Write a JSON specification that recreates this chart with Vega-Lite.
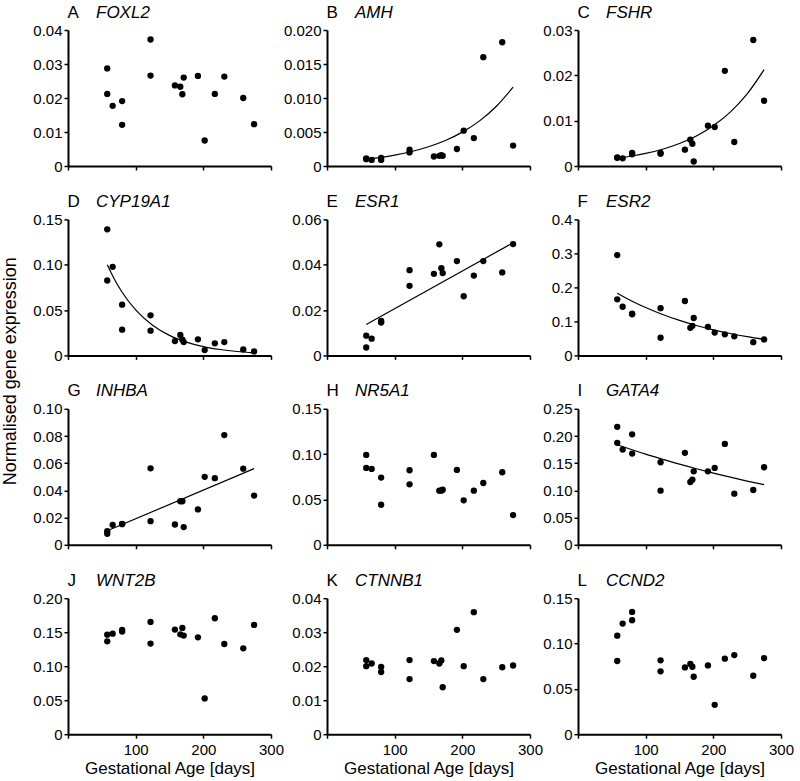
{
"$schema": "https://vega.github.io/schema/vega-lite/v6.json",
"background": "white",
"padding": {"left": 1, "top": 3, "right": 5, "bottom": 5},
"config": {
  "font": "Liberation Sans",
  "view": {"stroke": null},
  "axis": {"grid": false, "domainColor": "#000", "domainWidth": 2, "tickColor": "#000", "tickWidth": 1.5, "tickSize": 4, "labelColor": "#000", "labelFontSize": 15, "labelPadding": 2, "labelFlush": false, "labelOverlap": false, "titleColor": "#000", "titleFontSize": 17, "titleFontWeight": "normal"},
  "axisX": {"labelPadding": 4},
  "circle": {"size": 40, "color": "#000", "opacity": 1},
  "line": {"color": "#000", "strokeWidth": 1.2}
},
"datasets": {
  "pts": [
    {"g":"FOXL2","a":58,"v":0.0287},{"g":"FOXL2","a":58,"v":0.0212},{"g":"FOXL2","a":66,"v":0.0177},{"g":"FOXL2","a":80,"v":0.0191},{"g":"FOXL2","a":80,"v":0.0121},{"g":"FOXL2","a":122,"v":0.0372},{"g":"FOXL2","a":122,"v":0.0266},{"g":"FOXL2","a":158,"v":0.0237},{"g":"FOXL2","a":166,"v":0.0233},{"g":"FOXL2","a":169,"v":0.0211},{"g":"FOXL2","a":171,"v":0.0260},{"g":"FOXL2","a":192,"v":0.0265},{"g":"FOXL2","a":202,"v":0.0075},{"g":"FOXL2","a":217,"v":0.0212},{"g":"FOXL2","a":231,"v":0.0263},{"g":"FOXL2","a":259,"v":0.0200},{"g":"FOXL2","a":275,"v":0.0123},
    {"g":"AMH","a":58,"v":0.0011},{"g":"AMH","a":58,"v":0.0010},{"g":"AMH","a":66,"v":0.0009},{"g":"AMH","a":80,"v":0.0012},{"g":"AMH","a":80,"v":0.0009},{"g":"AMH","a":122,"v":0.0024},{"g":"AMH","a":122,"v":0.0020},{"g":"AMH","a":158,"v":0.0014},{"g":"AMH","a":166,"v":0.0015},{"g":"AMH","a":169,"v":0.0016},{"g":"AMH","a":171,"v":0.0015},{"g":"AMH","a":192,"v":0.0025},{"g":"AMH","a":202,"v":0.0052},{"g":"AMH","a":217,"v":0.0041},{"g":"AMH","a":231,"v":0.0160},{"g":"AMH","a":259,"v":0.0182},{"g":"AMH","a":275,"v":0.0030},
    {"g":"FSHR","a":58,"v":0.0018},{"g":"FSHR","a":58,"v":0.0019},{"g":"FSHR","a":66,"v":0.0017},{"g":"FSHR","a":80,"v":0.0029},{"g":"FSHR","a":80,"v":0.0026},{"g":"FSHR","a":122,"v":0.0029},{"g":"FSHR","a":122,"v":0.0027},{"g":"FSHR","a":158,"v":0.0036},{"g":"FSHR","a":166,"v":0.0058},{"g":"FSHR","a":169,"v":0.0049},{"g":"FSHR","a":171,"v":0.0010},{"g":"FSHR","a":192,"v":0.0089},{"g":"FSHR","a":202,"v":0.0086},{"g":"FSHR","a":217,"v":0.0210},{"g":"FSHR","a":231,"v":0.0053},{"g":"FSHR","a":259,"v":0.0278},{"g":"FSHR","a":275,"v":0.0144},
    {"g":"CYP19A1","a":58,"v":0.139},{"g":"CYP19A1","a":58,"v":0.0826},{"g":"CYP19A1","a":66,"v":0.0977},{"g":"CYP19A1","a":80,"v":0.056},{"g":"CYP19A1","a":80,"v":0.0284},{"g":"CYP19A1","a":122,"v":0.0442},{"g":"CYP19A1","a":122,"v":0.0273},{"g":"CYP19A1","a":158,"v":0.0158},{"g":"CYP19A1","a":166,"v":0.0225},{"g":"CYP19A1","a":169,"v":0.0173},{"g":"CYP19A1","a":171,"v":0.0147},{"g":"CYP19A1","a":192,"v":0.0177},{"g":"CYP19A1","a":202,"v":0.0059},{"g":"CYP19A1","a":217,"v":0.0133},{"g":"CYP19A1","a":231,"v":0.0147},{"g":"CYP19A1","a":259,"v":0.0066},{"g":"CYP19A1","a":275,"v":0.0044},
    {"g":"ESR1","a":58,"v":0.0087},{"g":"ESR1","a":58,"v":0.0035},{"g":"ESR1","a":66,"v":0.0074},{"g":"ESR1","a":80,"v":0.0152},{"g":"ESR1","a":80,"v":0.0145},{"g":"ESR1","a":122,"v":0.0376},{"g":"ESR1","a":122,"v":0.0307},{"g":"ESR1","a":158,"v":0.0360},{"g":"ESR1","a":166,"v":0.0490},{"g":"ESR1","a":169,"v":0.0385},{"g":"ESR1","a":171,"v":0.0363},{"g":"ESR1","a":192,"v":0.0416},{"g":"ESR1","a":202,"v":0.0261},{"g":"ESR1","a":217,"v":0.0352},{"g":"ESR1","a":231,"v":0.0416},{"g":"ESR1","a":259,"v":0.0366},{"g":"ESR1","a":275,"v":0.0491},
    {"g":"ESR2","a":58,"v":0.295},{"g":"ESR2","a":58,"v":0.165},{"g":"ESR2","a":66,"v":0.143},{"g":"ESR2","a":80,"v":0.123},{"g":"ESR2","a":80,"v":0.121},{"g":"ESR2","a":122,"v":0.139},{"g":"ESR2","a":122,"v":0.052},{"g":"ESR2","a":158,"v":0.160},{"g":"ESR2","a":166,"v":0.081},{"g":"ESR2","a":169,"v":0.087},{"g":"ESR2","a":171,"v":0.110},{"g":"ESR2","a":192,"v":0.084},{"g":"ESR2","a":202,"v":0.067},{"g":"ESR2","a":217,"v":0.062},{"g":"ESR2","a":231,"v":0.056},{"g":"ESR2","a":259,"v":0.039},{"g":"ESR2","a":275,"v":0.047},
    {"g":"INHBA","a":58,"v":0.0100},{"g":"INHBA","a":58,"v":0.0081},{"g":"INHBA","a":66,"v":0.0147},{"g":"INHBA","a":80,"v":0.0154},{"g":"INHBA","a":80,"v":0.0152},{"g":"INHBA","a":122,"v":0.0562},{"g":"INHBA","a":122,"v":0.0174},{"g":"INHBA","a":158,"v":0.0149},{"g":"INHBA","a":166,"v":0.032},{"g":"INHBA","a":169,"v":0.032},{"g":"INHBA","a":171,"v":0.013},{"g":"INHBA","a":192,"v":0.026},{"g":"INHBA","a":202,"v":0.050},{"g":"INHBA","a":217,"v":0.049},{"g":"INHBA","a":231,"v":0.0807},{"g":"INHBA","a":259,"v":0.056},{"g":"INHBA","a":275,"v":0.0362},
    {"g":"NR5A1","a":58,"v":0.0991},{"g":"NR5A1","a":58,"v":0.0848},{"g":"NR5A1","a":66,"v":0.0837},{"g":"NR5A1","a":80,"v":0.0741},{"g":"NR5A1","a":80,"v":0.0442},{"g":"NR5A1","a":122,"v":0.0822},{"g":"NR5A1","a":122,"v":0.0667},{"g":"NR5A1","a":158,"v":0.0991},{"g":"NR5A1","a":166,"v":0.0597},{"g":"NR5A1","a":169,"v":0.0597},{"g":"NR5A1","a":171,"v":0.0608},{"g":"NR5A1","a":192,"v":0.0826},{"g":"NR5A1","a":202,"v":0.049},{"g":"NR5A1","a":217,"v":0.0597},{"g":"NR5A1","a":231,"v":0.0682},{"g":"NR5A1","a":259,"v":0.080},{"g":"NR5A1","a":275,"v":0.0328},
    {"g":"GATA4","a":58,"v":0.2168},{"g":"GATA4","a":58,"v":0.1874},{"g":"GATA4","a":66,"v":0.175},{"g":"GATA4","a":80,"v":0.203},{"g":"GATA4","a":80,"v":0.1677},{"g":"GATA4","a":122,"v":0.1517},{"g":"GATA4","a":122,"v":0.0995},{"g":"GATA4","a":158,"v":0.169},{"g":"GATA4","a":166,"v":0.1155},{"g":"GATA4","a":169,"v":0.1198},{"g":"GATA4","a":171,"v":0.135},{"g":"GATA4","a":192,"v":0.135},{"g":"GATA4","a":202,"v":0.1413},{"g":"GATA4","a":217,"v":0.1855},{"g":"GATA4","a":231,"v":0.094},{"g":"GATA4","a":259,"v":0.1007},{"g":"GATA4","a":275,"v":0.1425},
    {"g":"WNT2B","a":58,"v":0.1464},{"g":"WNT2B","a":58,"v":0.1366},{"g":"WNT2B","a":66,"v":0.1479},{"g":"WNT2B","a":80,"v":0.1533},{"g":"WNT2B","a":80,"v":0.1509},{"g":"WNT2B","a":122,"v":0.1651},{"g":"WNT2B","a":122,"v":0.1332},{"g":"WNT2B","a":158,"v":0.1538},{"g":"WNT2B","a":166,"v":0.1469},{"g":"WNT2B","a":169,"v":0.1563},{"g":"WNT2B","a":171,"v":0.145},{"g":"WNT2B","a":192,"v":0.1425},{"g":"WNT2B","a":202,"v":0.0526},{"g":"WNT2B","a":217,"v":0.1705},{"g":"WNT2B","a":231,"v":0.1327},{"g":"WNT2B","a":259,"v":0.1263},{"g":"WNT2B","a":275,"v":0.1607},
    {"g":"CTNNB1","a":58,"v":0.0218},{"g":"CTNNB1","a":58,"v":0.0200},{"g":"CTNNB1","a":66,"v":0.0208},{"g":"CTNNB1","a":80,"v":0.0198},{"g":"CTNNB1","a":80,"v":0.0183},{"g":"CTNNB1","a":122,"v":0.0218},{"g":"CTNNB1","a":122,"v":0.0162},{"g":"CTNNB1","a":158,"v":0.0215},{"g":"CTNNB1","a":166,"v":0.0208},{"g":"CTNNB1","a":169,"v":0.0217},{"g":"CTNNB1","a":171,"v":0.0138},{"g":"CTNNB1","a":192,"v":0.0307},{"g":"CTNNB1","a":202,"v":0.0200},{"g":"CTNNB1","a":217,"v":0.0359},{"g":"CTNNB1","a":231,"v":0.0162},{"g":"CTNNB1","a":259,"v":0.0197},{"g":"CTNNB1","a":275,"v":0.0202},
    {"g":"CCND2","a":58,"v":0.1087},{"g":"CCND2","a":58,"v":0.0807},{"g":"CCND2","a":66,"v":0.122},{"g":"CCND2","a":80,"v":0.1349},{"g":"CCND2","a":80,"v":0.1257},{"g":"CCND2","a":122,"v":0.0815},{"g":"CCND2","a":122,"v":0.0693},{"g":"CCND2","a":158,"v":0.0737},{"g":"CCND2","a":166,"v":0.0774},{"g":"CCND2","a":169,"v":0.0744},{"g":"CCND2","a":171,"v":0.0634},{"g":"CCND2","a":192,"v":0.0759},{"g":"CCND2","a":202,"v":0.0324},{"g":"CCND2","a":217,"v":0.0833},{"g":"CCND2","a":231,"v":0.0873},{"g":"CCND2","a":259,"v":0.0645},{"g":"CCND2","a":275,"v":0.084}
  ],
  "fit": [
    {"g":"AMH","a":58,"v":0.00100},{"g":"AMH","a":80,"v":0.00128},{"g":"AMH","a":100,"v":0.00161},{"g":"AMH","a":125,"v":0.00213},{"g":"AMH","a":150,"v":0.00283},{"g":"AMH","a":175,"v":0.00375},{"g":"AMH","a":200,"v":0.00498},{"g":"AMH","a":225,"v":0.0066},{"g":"AMH","a":250,"v":0.00875},{"g":"AMH","a":275,"v":0.0116},
    {"g":"FSHR","a":58,"v":0.0017},{"g":"FSHR","a":80,"v":0.0022},{"g":"FSHR","a":100,"v":0.00277},{"g":"FSHR","a":125,"v":0.0037},{"g":"FSHR","a":150,"v":0.00496},{"g":"FSHR","a":175,"v":0.00663},{"g":"FSHR","a":200,"v":0.00888},{"g":"FSHR","a":225,"v":0.01188},{"g":"FSHR","a":250,"v":0.0159},{"g":"FSHR","a":275,"v":0.02125},
    {"g":"CYP19A1","a":58,"v":0.100},{"g":"CYP19A1","a":70,"v":0.0821},{"g":"CYP19A1","a":80,"v":0.0697},{"g":"CYP19A1","a":100,"v":0.0502},{"g":"CYP19A1","a":125,"v":0.0333},{"g":"CYP19A1","a":150,"v":0.0221},{"g":"CYP19A1","a":175,"v":0.0147},{"g":"CYP19A1","a":200,"v":0.0097},{"g":"CYP19A1","a":225,"v":0.0065},{"g":"CYP19A1","a":250,"v":0.0043},{"g":"CYP19A1","a":275,"v":0.0028},
    {"g":"ESR1","a":58,"v":0.0136},{"g":"ESR1","a":275,"v":0.0497},
    {"g":"ESR2","a":58,"v":0.183},{"g":"ESR2","a":80,"v":0.1594},{"g":"ESR2","a":100,"v":0.1407},{"g":"ESR2","a":125,"v":0.1203},{"g":"ESR2","a":150,"v":0.1029},{"g":"ESR2","a":175,"v":0.088},{"g":"ESR2","a":200,"v":0.0752},{"g":"ESR2","a":225,"v":0.0644},{"g":"ESR2","a":250,"v":0.055},{"g":"ESR2","a":275,"v":0.0471},
    {"g":"INHBA","a":58,"v":0.0103},{"g":"INHBA","a":275,"v":0.056},
    {"g":"GATA4","a":58,"v":0.184},{"g":"GATA4","a":100,"v":0.1667},{"g":"GATA4","a":125,"v":0.1573},{"g":"GATA4","a":150,"v":0.1482},{"g":"GATA4","a":175,"v":0.1398},{"g":"GATA4","a":200,"v":0.1319},{"g":"GATA4","a":225,"v":0.1243},{"g":"GATA4","a":250,"v":0.1172},{"g":"GATA4","a":275,"v":0.1106}
  ]
},
"spacing": -1,
"hconcat": [
 {"vconcat": [
  {"width":203,"height":136,"resolve":{"axis":{"x":"independent","y":"independent"}},"layer":[
    {"data":{"name":"pts"},"transform":[{"filter":"datum.g == 'FOXL2'"}],"mark":"circle","encoding":{
      "x":{"field":"a","type":"quantitative","scale":{"domain":[0,300],"nice":false},"axis":{"values":[0,100,200,300],"labels":false,"title":null}},
      "y":{"field":"v","type":"quantitative","scale":{"domain":[0,0.04],"nice":false},"axis":{"values":[0,0.01,0.02,0.03,0.04],"labelOverlap":false,"labelExpr":"datum.value == 0 ? '0' : format(datum.value, '.2f')","title":null}}}},
    {"data":{"name":"fit"},"transform":[{"filter":"datum.g == 'FOXL2'"}],"mark":{"type":"line","interpolate":"monotone"},"encoding":{
      "x":{"field":"a","type":"quantitative","axis":{"orient":"top","domain":false,"ticks":false,"labels":false,"title":"FOXL2","titleFontStyle":"italic","titleX":27.5,"titleY":-13,"titleAlign":"left","titleBaseline":"alphabetic","titleAngle":0}},
      "y":{"field":"v","type":"quantitative","axis":null}}},
    {"data":{"name":"fit"},"transform":[{"filter":"false"}],"mark":"line","encoding":{
      "x":{"field":"a","type":"quantitative","axis":{"orient":"top","domain":false,"ticks":false,"labels":false,"title":"A","titleX":-1,"titleY":-13,"titleAlign":"left","titleBaseline":"alphabetic","titleAngle":0}},
      "y":{"field":"v","type":"quantitative","axis":null}}}]},
  {"width":203,"height":136,"resolve":{"axis":{"x":"independent","y":"independent"}},"layer":[
    {"data":{"name":"pts"},"transform":[{"filter":"datum.g == 'CYP19A1'"}],"mark":"circle","encoding":{
      "x":{"field":"a","type":"quantitative","scale":{"domain":[0,300],"nice":false},"axis":{"values":[0,100,200,300],"labels":false,"title":null}},
      "y":{"field":"v","type":"quantitative","scale":{"domain":[0,0.15],"nice":false},"axis":{"values":[0,0.05,0.1,0.15],"labelOverlap":false,"labelExpr":"datum.value == 0 ? '0' : format(datum.value, '.2f')","title":null}}}},
    {"data":{"name":"fit"},"transform":[{"filter":"datum.g == 'CYP19A1'"}],"mark":{"type":"line","interpolate":"monotone"},"encoding":{
      "x":{"field":"a","type":"quantitative","axis":{"orient":"top","domain":false,"ticks":false,"labels":false,"title":"CYP19A1","titleFontStyle":"italic","titleX":27.5,"titleY":-13,"titleAlign":"left","titleBaseline":"alphabetic","titleAngle":0}},
      "y":{"field":"v","type":"quantitative","axis":null}}},
    {"data":{"name":"fit"},"transform":[{"filter":"false"}],"mark":"line","encoding":{
      "x":{"field":"a","type":"quantitative","axis":{"orient":"top","domain":false,"ticks":false,"labels":false,"title":"D","titleX":-1,"titleY":-13,"titleAlign":"left","titleBaseline":"alphabetic","titleAngle":0}},
      "y":{"field":"v","type":"quantitative","axis":null}}}]},
  {"width":203,"height":136,"resolve":{"axis":{"x":"independent","y":"independent"}},"layer":[
    {"data":{"name":"pts"},"transform":[{"filter":"datum.g == 'INHBA'"}],"mark":"circle","encoding":{
      "x":{"field":"a","type":"quantitative","scale":{"domain":[0,300],"nice":false},"axis":{"values":[0,100,200,300],"labels":false,"title":null}},
      "y":{"field":"v","type":"quantitative","scale":{"domain":[0,0.1],"nice":false},"axis":{"values":[0,0.02,0.04,0.06,0.08,0.1],"labelOverlap":false,"labelExpr":"datum.value == 0 ? '0' : format(datum.value, '.2f')","title":"Normalised gene expression","titleFontSize":18,"titleX":-58,"titleY":-38,"titleAngle":-90,"titleAlign":"center","titleBaseline":"middle"}}}},
    {"data":{"name":"fit"},"transform":[{"filter":"datum.g == 'INHBA'"}],"mark":{"type":"line","interpolate":"monotone"},"encoding":{
      "x":{"field":"a","type":"quantitative","axis":{"orient":"top","domain":false,"ticks":false,"labels":false,"title":"INHBA","titleFontStyle":"italic","titleX":27.5,"titleY":-13,"titleAlign":"left","titleBaseline":"alphabetic","titleAngle":0}},
      "y":{"field":"v","type":"quantitative","axis":null}}},
    {"data":{"name":"fit"},"transform":[{"filter":"false"}],"mark":"line","encoding":{
      "x":{"field":"a","type":"quantitative","axis":{"orient":"top","domain":false,"ticks":false,"labels":false,"title":"G","titleX":-1,"titleY":-13,"titleAlign":"left","titleBaseline":"alphabetic","titleAngle":0}},
      "y":{"field":"v","type":"quantitative","axis":null}}}]},
  {"width":203,"height":136,"resolve":{"axis":{"x":"independent","y":"independent"}},"layer":[
    {"data":{"name":"pts"},"transform":[{"filter":"datum.g == 'WNT2B'"}],"mark":"circle","encoding":{
      "x":{"field":"a","type":"quantitative","scale":{"domain":[0,300],"nice":false},"axis":{"values":[0,100,200,300],"labelExpr":"datum.value == 0 ? '' : datum.label","title":"Gestational Age [days]","titlePadding":3}},
      "y":{"field":"v","type":"quantitative","scale":{"domain":[0,0.2],"nice":false},"axis":{"values":[0,0.05,0.1,0.15,0.2],"labelOverlap":false,"labelExpr":"datum.value == 0 ? '0' : format(datum.value, '.2f')","title":null}}}},
    {"data":{"name":"fit"},"transform":[{"filter":"datum.g == 'WNT2B'"}],"mark":{"type":"line","interpolate":"monotone"},"encoding":{
      "x":{"field":"a","type":"quantitative","axis":{"orient":"top","domain":false,"ticks":false,"labels":false,"title":"WNT2B","titleFontStyle":"italic","titleX":27.5,"titleY":-13,"titleAlign":"left","titleBaseline":"alphabetic","titleAngle":0}},
      "y":{"field":"v","type":"quantitative","axis":null}}},
    {"data":{"name":"fit"},"transform":[{"filter":"false"}],"mark":"line","encoding":{
      "x":{"field":"a","type":"quantitative","axis":{"orient":"top","domain":false,"ticks":false,"labels":false,"title":"J","titleX":-1,"titleY":-13,"titleAlign":"left","titleBaseline":"alphabetic","titleAngle":0}},
      "y":{"field":"v","type":"quantitative","axis":null}}}]}
 ], "spacing": 53.4, "bounds": "flush"},
 {"vconcat": [
  {"width":203,"height":136,"resolve":{"axis":{"x":"independent","y":"independent"}},"layer":[
    {"data":{"name":"pts"},"transform":[{"filter":"datum.g == 'AMH'"}],"mark":"circle","encoding":{
      "x":{"field":"a","type":"quantitative","scale":{"domain":[0,300],"nice":false},"axis":{"values":[0,100,200,300],"labels":false,"title":null}},
      "y":{"field":"v","type":"quantitative","scale":{"domain":[0,0.02],"nice":false},"axis":{"values":[0,0.005,0.01,0.015,0.02],"labelOverlap":false,"labelExpr":"datum.value == 0 ? '0' : format(datum.value, '.3f')","title":null}}}},
    {"data":{"name":"fit"},"transform":[{"filter":"datum.g == 'AMH'"}],"mark":{"type":"line","interpolate":"monotone"},"encoding":{
      "x":{"field":"a","type":"quantitative","axis":{"orient":"top","domain":false,"ticks":false,"labels":false,"title":"AMH","titleFontStyle":"italic","titleX":27.5,"titleY":-13,"titleAlign":"left","titleBaseline":"alphabetic","titleAngle":0}},
      "y":{"field":"v","type":"quantitative","axis":null}}},
    {"data":{"name":"fit"},"transform":[{"filter":"false"}],"mark":"line","encoding":{
      "x":{"field":"a","type":"quantitative","axis":{"orient":"top","domain":false,"ticks":false,"labels":false,"title":"B","titleX":-1,"titleY":-13,"titleAlign":"left","titleBaseline":"alphabetic","titleAngle":0}},
      "y":{"field":"v","type":"quantitative","axis":null}}}]},
  {"width":203,"height":136,"resolve":{"axis":{"x":"independent","y":"independent"}},"layer":[
    {"data":{"name":"pts"},"transform":[{"filter":"datum.g == 'ESR1'"}],"mark":"circle","encoding":{
      "x":{"field":"a","type":"quantitative","scale":{"domain":[0,300],"nice":false},"axis":{"values":[0,100,200,300],"labels":false,"title":null}},
      "y":{"field":"v","type":"quantitative","scale":{"domain":[0,0.06],"nice":false},"axis":{"values":[0,0.02,0.04,0.06],"labelOverlap":false,"labelExpr":"datum.value == 0 ? '0' : format(datum.value, '.2f')","title":null}}}},
    {"data":{"name":"fit"},"transform":[{"filter":"datum.g == 'ESR1'"}],"mark":{"type":"line","interpolate":"monotone"},"encoding":{
      "x":{"field":"a","type":"quantitative","axis":{"orient":"top","domain":false,"ticks":false,"labels":false,"title":"ESR1","titleFontStyle":"italic","titleX":27.5,"titleY":-13,"titleAlign":"left","titleBaseline":"alphabetic","titleAngle":0}},
      "y":{"field":"v","type":"quantitative","axis":null}}},
    {"data":{"name":"fit"},"transform":[{"filter":"false"}],"mark":"line","encoding":{
      "x":{"field":"a","type":"quantitative","axis":{"orient":"top","domain":false,"ticks":false,"labels":false,"title":"E","titleX":-1,"titleY":-13,"titleAlign":"left","titleBaseline":"alphabetic","titleAngle":0}},
      "y":{"field":"v","type":"quantitative","axis":null}}}]},
  {"width":203,"height":136,"resolve":{"axis":{"x":"independent","y":"independent"}},"layer":[
    {"data":{"name":"pts"},"transform":[{"filter":"datum.g == 'NR5A1'"}],"mark":"circle","encoding":{
      "x":{"field":"a","type":"quantitative","scale":{"domain":[0,300],"nice":false},"axis":{"values":[0,100,200,300],"labels":false,"title":null}},
      "y":{"field":"v","type":"quantitative","scale":{"domain":[0,0.15],"nice":false},"axis":{"values":[0,0.05,0.1,0.15],"labelOverlap":false,"labelExpr":"datum.value == 0 ? '0' : format(datum.value, '.2f')","title":null}}}},
    {"data":{"name":"fit"},"transform":[{"filter":"datum.g == 'NR5A1'"}],"mark":{"type":"line","interpolate":"monotone"},"encoding":{
      "x":{"field":"a","type":"quantitative","axis":{"orient":"top","domain":false,"ticks":false,"labels":false,"title":"NR5A1","titleFontStyle":"italic","titleX":27.5,"titleY":-13,"titleAlign":"left","titleBaseline":"alphabetic","titleAngle":0}},
      "y":{"field":"v","type":"quantitative","axis":null}}},
    {"data":{"name":"fit"},"transform":[{"filter":"false"}],"mark":"line","encoding":{
      "x":{"field":"a","type":"quantitative","axis":{"orient":"top","domain":false,"ticks":false,"labels":false,"title":"H","titleX":-1,"titleY":-13,"titleAlign":"left","titleBaseline":"alphabetic","titleAngle":0}},
      "y":{"field":"v","type":"quantitative","axis":null}}}]},
  {"width":203,"height":136,"resolve":{"axis":{"x":"independent","y":"independent"}},"layer":[
    {"data":{"name":"pts"},"transform":[{"filter":"datum.g == 'CTNNB1'"}],"mark":"circle","encoding":{
      "x":{"field":"a","type":"quantitative","scale":{"domain":[0,300],"nice":false},"axis":{"values":[0,100,200,300],"labelExpr":"datum.value == 0 ? '' : datum.label","title":"Gestational Age [days]","titlePadding":3}},
      "y":{"field":"v","type":"quantitative","scale":{"domain":[0,0.04],"nice":false},"axis":{"values":[0,0.01,0.02,0.03,0.04],"labelOverlap":false,"labelExpr":"datum.value == 0 ? '0' : format(datum.value, '.2f')","title":null}}}},
    {"data":{"name":"fit"},"transform":[{"filter":"datum.g == 'CTNNB1'"}],"mark":{"type":"line","interpolate":"monotone"},"encoding":{
      "x":{"field":"a","type":"quantitative","axis":{"orient":"top","domain":false,"ticks":false,"labels":false,"title":"CTNNB1","titleFontStyle":"italic","titleX":27.5,"titleY":-13,"titleAlign":"left","titleBaseline":"alphabetic","titleAngle":0}},
      "y":{"field":"v","type":"quantitative","axis":null}}},
    {"data":{"name":"fit"},"transform":[{"filter":"false"}],"mark":"line","encoding":{
      "x":{"field":"a","type":"quantitative","axis":{"orient":"top","domain":false,"ticks":false,"labels":false,"title":"K","titleX":-1,"titleY":-13,"titleAlign":"left","titleBaseline":"alphabetic","titleAngle":0}},
      "y":{"field":"v","type":"quantitative","axis":null}}}]}
 ], "spacing": 53.4, "bounds": "flush"},
 {"vconcat": [
  {"width":203,"height":136,"resolve":{"axis":{"x":"independent","y":"independent"}},"layer":[
    {"data":{"name":"pts"},"transform":[{"filter":"datum.g == 'FSHR'"}],"mark":"circle","encoding":{
      "x":{"field":"a","type":"quantitative","scale":{"domain":[0,300],"nice":false},"axis":{"values":[0,100,200,300],"labels":false,"title":null}},
      "y":{"field":"v","type":"quantitative","scale":{"domain":[0,0.03],"nice":false},"axis":{"values":[0,0.01,0.02,0.03],"labelOverlap":false,"labelExpr":"datum.value == 0 ? '0' : format(datum.value, '.2f')","title":null}}}},
    {"data":{"name":"fit"},"transform":[{"filter":"datum.g == 'FSHR'"}],"mark":{"type":"line","interpolate":"monotone"},"encoding":{
      "x":{"field":"a","type":"quantitative","axis":{"orient":"top","domain":false,"ticks":false,"labels":false,"title":"FSHR","titleFontStyle":"italic","titleX":27.5,"titleY":-13,"titleAlign":"left","titleBaseline":"alphabetic","titleAngle":0}},
      "y":{"field":"v","type":"quantitative","axis":null}}},
    {"data":{"name":"fit"},"transform":[{"filter":"false"}],"mark":"line","encoding":{
      "x":{"field":"a","type":"quantitative","axis":{"orient":"top","domain":false,"ticks":false,"labels":false,"title":"C","titleX":-1,"titleY":-13,"titleAlign":"left","titleBaseline":"alphabetic","titleAngle":0}},
      "y":{"field":"v","type":"quantitative","axis":null}}}]},
  {"width":203,"height":136,"resolve":{"axis":{"x":"independent","y":"independent"}},"layer":[
    {"data":{"name":"pts"},"transform":[{"filter":"datum.g == 'ESR2'"}],"mark":"circle","encoding":{
      "x":{"field":"a","type":"quantitative","scale":{"domain":[0,300],"nice":false},"axis":{"values":[0,100,200,300],"labels":false,"title":null}},
      "y":{"field":"v","type":"quantitative","scale":{"domain":[0,0.4],"nice":false},"axis":{"values":[0,0.1,0.2,0.3,0.4],"labelOverlap":false,"labelExpr":"datum.value == 0 ? '0' : format(datum.value, '.1f')","title":null}}}},
    {"data":{"name":"fit"},"transform":[{"filter":"datum.g == 'ESR2'"}],"mark":{"type":"line","interpolate":"monotone"},"encoding":{
      "x":{"field":"a","type":"quantitative","axis":{"orient":"top","domain":false,"ticks":false,"labels":false,"title":"ESR2","titleFontStyle":"italic","titleX":27.5,"titleY":-13,"titleAlign":"left","titleBaseline":"alphabetic","titleAngle":0}},
      "y":{"field":"v","type":"quantitative","axis":null}}},
    {"data":{"name":"fit"},"transform":[{"filter":"false"}],"mark":"line","encoding":{
      "x":{"field":"a","type":"quantitative","axis":{"orient":"top","domain":false,"ticks":false,"labels":false,"title":"F","titleX":-1,"titleY":-13,"titleAlign":"left","titleBaseline":"alphabetic","titleAngle":0}},
      "y":{"field":"v","type":"quantitative","axis":null}}}]},
  {"width":203,"height":136,"resolve":{"axis":{"x":"independent","y":"independent"}},"layer":[
    {"data":{"name":"pts"},"transform":[{"filter":"datum.g == 'GATA4'"}],"mark":"circle","encoding":{
      "x":{"field":"a","type":"quantitative","scale":{"domain":[0,300],"nice":false},"axis":{"values":[0,100,200,300],"labels":false,"title":null}},
      "y":{"field":"v","type":"quantitative","scale":{"domain":[0,0.25],"nice":false},"axis":{"values":[0,0.05,0.1,0.15,0.2,0.25],"labelOverlap":false,"labelExpr":"datum.value == 0 ? '0' : format(datum.value, '.2f')","title":null}}}},
    {"data":{"name":"fit"},"transform":[{"filter":"datum.g == 'GATA4'"}],"mark":{"type":"line","interpolate":"monotone"},"encoding":{
      "x":{"field":"a","type":"quantitative","axis":{"orient":"top","domain":false,"ticks":false,"labels":false,"title":"GATA4","titleFontStyle":"italic","titleX":27.5,"titleY":-13,"titleAlign":"left","titleBaseline":"alphabetic","titleAngle":0}},
      "y":{"field":"v","type":"quantitative","axis":null}}},
    {"data":{"name":"fit"},"transform":[{"filter":"false"}],"mark":"line","encoding":{
      "x":{"field":"a","type":"quantitative","axis":{"orient":"top","domain":false,"ticks":false,"labels":false,"title":"I","titleX":-1,"titleY":-13,"titleAlign":"left","titleBaseline":"alphabetic","titleAngle":0}},
      "y":{"field":"v","type":"quantitative","axis":null}}}]},
  {"width":203,"height":136,"resolve":{"axis":{"x":"independent","y":"independent"}},"layer":[
    {"data":{"name":"pts"},"transform":[{"filter":"datum.g == 'CCND2'"}],"mark":"circle","encoding":{
      "x":{"field":"a","type":"quantitative","scale":{"domain":[0,300],"nice":false},"axis":{"values":[0,100,200,300],"labelExpr":"datum.value == 0 ? '' : datum.label","title":"Gestational Age [days]","titlePadding":3}},
      "y":{"field":"v","type":"quantitative","scale":{"domain":[0,0.15],"nice":false},"axis":{"values":[0,0.05,0.1,0.15],"labelOverlap":false,"labelExpr":"datum.value == 0 ? '0' : format(datum.value, '.2f')","title":null}}}},
    {"data":{"name":"fit"},"transform":[{"filter":"datum.g == 'CCND2'"}],"mark":{"type":"line","interpolate":"monotone"},"encoding":{
      "x":{"field":"a","type":"quantitative","axis":{"orient":"top","domain":false,"ticks":false,"labels":false,"title":"CCND2","titleFontStyle":"italic","titleX":27.5,"titleY":-13,"titleAlign":"left","titleBaseline":"alphabetic","titleAngle":0}},
      "y":{"field":"v","type":"quantitative","axis":null}}},
    {"data":{"name":"fit"},"transform":[{"filter":"false"}],"mark":"line","encoding":{
      "x":{"field":"a","type":"quantitative","axis":{"orient":"top","domain":false,"ticks":false,"labels":false,"title":"L","titleX":-1,"titleY":-13,"titleAlign":"left","titleBaseline":"alphabetic","titleAngle":0}},
      "y":{"field":"v","type":"quantitative","axis":null}}}]}
 ], "spacing": 53.4, "bounds": "flush"}
]
}
